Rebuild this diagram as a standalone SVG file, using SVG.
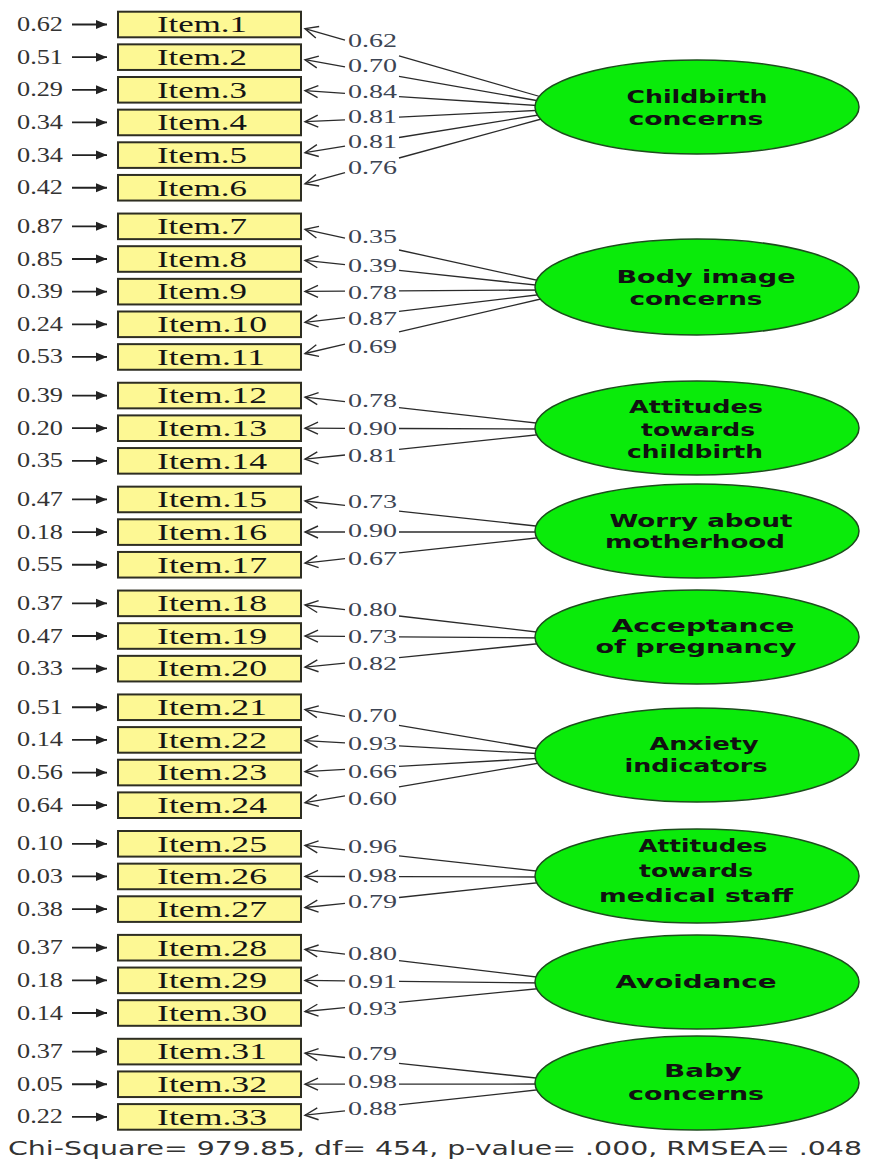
<svg xmlns="http://www.w3.org/2000/svg" width="869" height="1166" viewBox="0 0 869 1166">
<style>
.box{fill:#fdf894;stroke:#2e2e22;stroke-width:2}
.it{font-family:"Liberation Serif",serif;font-size:23px;fill:#141414}
.err{font-family:"Liberation Serif",serif;font-size:20px;fill:#333}
.ld{font-family:"Liberation Serif",serif;font-size:18px;fill:#3c4452}
.ln{stroke:#2b2b2b;stroke-width:1.3;fill:none}
.ar{stroke:#2b2b2b;stroke-width:1.3;fill:none;marker-end:url(#open)}
.ea{stroke:#222;stroke-width:1.8;marker-end:url(#solid)}
.ell{fill:#0aeb0a;stroke:#1d4d1d;stroke-width:1.5}
.lt{font-family:"DejaVu Sans",sans-serif;font-weight:bold;font-size:18px;fill:#111;text-anchor:middle}
.ft{font-family:"DejaVu Sans",sans-serif;font-size:20px;fill:#333}
</style>
<defs>
<marker id="open" markerUnits="userSpaceOnUse" markerWidth="16" markerHeight="14" refX="14" refY="7" orient="auto" overflow="visible">
<path d="M1,1 L14,7 L1,13" fill="none" stroke="#2b2b2b" stroke-width="1.4"/>
</marker>
<marker id="solid" markerUnits="userSpaceOnUse" markerWidth="12" markerHeight="10" refX="11" refY="4.5" orient="auto" overflow="visible">
<path d="M0,0 L11,4.5 L0,9 z" fill="#222"/>
</marker>
</defs>
<rect width="869" height="1166" fill="#fff"/>

<g id="connectors">
<line class="ln" x1="545" y1="98" x2="399" y2="55.8"/><line class="ar" x1="345" y1="40.2" x2="305" y2="28.6"/>
<line class="ln" x1="545" y1="102" x2="399" y2="76.3"/><line class="ar" x1="345" y1="66.8" x2="305" y2="59.7"/>
<line class="ln" x1="545" y1="106" x2="399" y2="96.7"/><line class="ar" x1="345" y1="93.3" x2="305" y2="90.7"/>
<line class="ln" x1="545" y1="110" x2="399" y2="117.1"/><line class="ar" x1="345" y1="119.8" x2="305" y2="121.7"/>
<line class="ln" x1="545" y1="114" x2="399" y2="137.5"/><line class="ar" x1="345" y1="146.2" x2="305" y2="152.7"/>
<line class="ln" x1="545" y1="118" x2="399" y2="158"/><line class="ar" x1="345" y1="172.7" x2="305" y2="183.7"/>
<line class="ln" x1="545" y1="282" x2="399" y2="250"/><line class="ar" x1="345" y1="238.2" x2="305" y2="229.4"/>
<line class="ln" x1="545" y1="286" x2="399" y2="270.4"/><line class="ar" x1="345" y1="264.7" x2="305" y2="260.4"/>
<line class="ln" x1="545" y1="290" x2="399" y2="290.9"/><line class="ar" x1="345" y1="291.2" x2="305" y2="291.4"/>
<line class="ln" x1="545" y1="294" x2="399" y2="311.3"/><line class="ar" x1="345" y1="317.7" x2="305" y2="322.4"/>
<line class="ln" x1="545" y1="298" x2="399" y2="331.8"/><line class="ar" x1="345" y1="344.2" x2="305" y2="353.5"/>
<line class="ln" x1="545" y1="424" x2="399" y2="407.7"/><line class="ar" x1="345" y1="401.7" x2="305" y2="397.2"/>
<line class="ln" x1="545" y1="429" x2="399" y2="428.5"/><line class="ar" x1="345" y1="428.3" x2="305" y2="428.2"/>
<line class="ln" x1="545" y1="434" x2="399" y2="449.3"/><line class="ar" x1="345" y1="455" x2="305" y2="459.2"/>
<line class="ln" x1="545" y1="527" x2="399" y2="511.2"/><line class="ar" x1="345" y1="505.3" x2="305" y2="501"/>
<line class="ln" x1="545" y1="532" x2="399" y2="532"/><line class="ar" x1="345" y1="532" x2="305" y2="532"/>
<line class="ln" x1="545" y1="537" x2="399" y2="552.9"/><line class="ar" x1="345" y1="558.7" x2="305" y2="563.1"/>
<line class="ln" x1="545" y1="633" x2="399" y2="616"/><line class="ar" x1="345" y1="609.7" x2="305" y2="605"/>
<line class="ln" x1="545" y1="638" x2="399" y2="636.8"/><line class="ar" x1="345" y1="636.4" x2="305" y2="636.1"/>
<line class="ln" x1="545" y1="643" x2="399" y2="657.7"/><line class="ar" x1="345" y1="663.1" x2="305" y2="667.1"/>
<line class="ln" x1="545" y1="750" x2="399" y2="725.4"/><line class="ar" x1="345" y1="716.3" x2="305" y2="709.6"/>
<line class="ln" x1="545" y1="754" x2="399" y2="745.9"/><line class="ar" x1="345" y1="742.9" x2="305" y2="740.7"/>
<line class="ln" x1="545" y1="758" x2="399" y2="766.3"/><line class="ar" x1="345" y1="769.4" x2="305" y2="771.7"/>
<line class="ln" x1="545" y1="762" x2="399" y2="786.8"/><line class="ar" x1="345" y1="795.9" x2="305" y2="802.7"/>
<line class="ln" x1="545" y1="872" x2="399" y2="855.8"/><line class="ar" x1="345" y1="849.8" x2="305" y2="845.4"/>
<line class="ln" x1="545" y1="877" x2="399" y2="876.6"/><line class="ar" x1="345" y1="876.5" x2="305" y2="876.4"/>
<line class="ln" x1="545" y1="882" x2="399" y2="897.5"/><line class="ar" x1="345" y1="903.3" x2="305" y2="907.5"/>
<line class="ln" x1="545" y1="978" x2="399" y2="960.6"/><line class="ar" x1="345" y1="954.2" x2="305" y2="949.4"/>
<line class="ln" x1="545" y1="983" x2="399" y2="981.4"/><line class="ar" x1="345" y1="980.8" x2="305" y2="980.4"/>
<line class="ln" x1="545" y1="988" x2="399" y2="1002.3"/><line class="ar" x1="345" y1="1007.6" x2="305" y2="1011.5"/>
<line class="ln" x1="545" y1="1079" x2="399" y2="1063.3"/><line class="ar" x1="345" y1="1057.5" x2="305" y2="1053.2"/>
<line class="ln" x1="545" y1="1084" x2="399" y2="1084.2"/><line class="ar" x1="345" y1="1084.2" x2="305" y2="1084.2"/>
<line class="ln" x1="545" y1="1089" x2="399" y2="1104.9"/><line class="ar" x1="345" y1="1110.8" x2="305" y2="1115.2"/>

<line class="ea" x1="72" y1="24.5" x2="107" y2="24.5"/>
<line class="ea" x1="72" y1="57.15" x2="107" y2="57.15"/>
<line class="ea" x1="72" y1="89.8" x2="107" y2="89.8"/>
<line class="ea" x1="72" y1="122.45" x2="107" y2="122.45"/>
<line class="ea" x1="72" y1="155.1" x2="107" y2="155.1"/>
<line class="ea" x1="72" y1="187.75" x2="107" y2="187.75"/>
<line class="ea" x1="72" y1="226.35" x2="107" y2="226.35"/>
<line class="ea" x1="72" y1="259" x2="107" y2="259"/>
<line class="ea" x1="72" y1="291.65" x2="107" y2="291.65"/>
<line class="ea" x1="72" y1="324.3" x2="107" y2="324.3"/>
<line class="ea" x1="72" y1="356.95" x2="107" y2="356.95"/>
<line class="ea" x1="72" y1="395.55" x2="107" y2="395.55"/>
<line class="ea" x1="72" y1="428.2" x2="107" y2="428.2"/>
<line class="ea" x1="72" y1="460.85" x2="107" y2="460.85"/>
<line class="ea" x1="72" y1="499.45" x2="107" y2="499.45"/>
<line class="ea" x1="72" y1="532.1" x2="107" y2="532.1"/>
<line class="ea" x1="72" y1="564.75" x2="107" y2="564.75"/>
<line class="ea" x1="72" y1="603.35" x2="107" y2="603.35"/>
<line class="ea" x1="72" y1="636" x2="107" y2="636"/>
<line class="ea" x1="72" y1="668.65" x2="107" y2="668.65"/>
<line class="ea" x1="72" y1="707.25" x2="107" y2="707.25"/>
<line class="ea" x1="72" y1="739.9" x2="107" y2="739.9"/>
<line class="ea" x1="72" y1="772.55" x2="107" y2="772.55"/>
<line class="ea" x1="72" y1="805.2" x2="107" y2="805.2"/>
<line class="ea" x1="72" y1="843.8" x2="107" y2="843.8"/>
<line class="ea" x1="72" y1="876.45" x2="107" y2="876.45"/>
<line class="ea" x1="72" y1="909.1" x2="107" y2="909.1"/>
<line class="ea" x1="72" y1="947.7" x2="107" y2="947.7"/>
<line class="ea" x1="72" y1="980.35" x2="107" y2="980.35"/>
<line class="ea" x1="72" y1="1013" x2="107" y2="1013"/>
<line class="ea" x1="72" y1="1051.6" x2="107" y2="1051.6"/>
<line class="ea" x1="72" y1="1084.25" x2="107" y2="1084.25"/>
<line class="ea" x1="72" y1="1116.9" x2="107" y2="1116.9"/>

<g class="ld">
<text x="348" y="47" textLength="49" lengthAdjust="spacingAndGlyphs">0.62</text>
<text x="348" y="72" textLength="49" lengthAdjust="spacingAndGlyphs">0.70</text>
<text x="348" y="98" textLength="49" lengthAdjust="spacingAndGlyphs">0.84</text>
<text x="348" y="123" textLength="49" lengthAdjust="spacingAndGlyphs">0.81</text>
<text x="348" y="148" textLength="49" lengthAdjust="spacingAndGlyphs">0.81</text>
<text x="348" y="174" textLength="49" lengthAdjust="spacingAndGlyphs">0.76</text>
<text x="348" y="243" textLength="49" lengthAdjust="spacingAndGlyphs">0.35</text>
<text x="348" y="272" textLength="49" lengthAdjust="spacingAndGlyphs">0.39</text>
<text x="348" y="299" textLength="49" lengthAdjust="spacingAndGlyphs">0.78</text>
<text x="348" y="325" textLength="49" lengthAdjust="spacingAndGlyphs">0.87</text>
<text x="348" y="353" textLength="49" lengthAdjust="spacingAndGlyphs">0.69</text>
<text x="348" y="407" textLength="49" lengthAdjust="spacingAndGlyphs">0.78</text>
<text x="348" y="435" textLength="49" lengthAdjust="spacingAndGlyphs">0.90</text>
<text x="348" y="462" textLength="49" lengthAdjust="spacingAndGlyphs">0.81</text>
<text x="348" y="508" textLength="49" lengthAdjust="spacingAndGlyphs">0.73</text>
<text x="348" y="537" textLength="49" lengthAdjust="spacingAndGlyphs">0.90</text>
<text x="348" y="565" textLength="49" lengthAdjust="spacingAndGlyphs">0.67</text>
<text x="348" y="616" textLength="49" lengthAdjust="spacingAndGlyphs">0.80</text>
<text x="348" y="643" textLength="49" lengthAdjust="spacingAndGlyphs">0.73</text>
<text x="348" y="670" textLength="49" lengthAdjust="spacingAndGlyphs">0.82</text>
<text x="348" y="722" textLength="49" lengthAdjust="spacingAndGlyphs">0.70</text>
<text x="348" y="750" textLength="49" lengthAdjust="spacingAndGlyphs">0.93</text>
<text x="348" y="778" textLength="49" lengthAdjust="spacingAndGlyphs">0.66</text>
<text x="348" y="805" textLength="49" lengthAdjust="spacingAndGlyphs">0.60</text>
<text x="348" y="853" textLength="49" lengthAdjust="spacingAndGlyphs">0.96</text>
<text x="348" y="882" textLength="49" lengthAdjust="spacingAndGlyphs">0.98</text>
<text x="348" y="908" textLength="49" lengthAdjust="spacingAndGlyphs">0.79</text>
<text x="348" y="960" textLength="49" lengthAdjust="spacingAndGlyphs">0.80</text>
<text x="348" y="988" textLength="49" lengthAdjust="spacingAndGlyphs">0.91</text>
<text x="348" y="1015" textLength="49" lengthAdjust="spacingAndGlyphs">0.93</text>
<text x="348" y="1060" textLength="49" lengthAdjust="spacingAndGlyphs">0.79</text>
<text x="348" y="1088" textLength="49" lengthAdjust="spacingAndGlyphs">0.98</text>
<text x="348" y="1115" textLength="49" lengthAdjust="spacingAndGlyphs">0.88</text>
</g>

<g class="err">
<text x="17" y="31" textLength="46" lengthAdjust="spacingAndGlyphs">0.62</text>
<text x="17" y="63.65" textLength="46" lengthAdjust="spacingAndGlyphs">0.51</text>
<text x="17" y="96.3" textLength="46" lengthAdjust="spacingAndGlyphs">0.29</text>
<text x="17" y="128.95" textLength="46" lengthAdjust="spacingAndGlyphs">0.34</text>
<text x="17" y="161.6" textLength="46" lengthAdjust="spacingAndGlyphs">0.34</text>
<text x="17" y="194.25" textLength="46" lengthAdjust="spacingAndGlyphs">0.42</text>
<text x="17" y="232.85" textLength="46" lengthAdjust="spacingAndGlyphs">0.87</text>
<text x="17" y="265.5" textLength="46" lengthAdjust="spacingAndGlyphs">0.85</text>
<text x="17" y="298.15" textLength="46" lengthAdjust="spacingAndGlyphs">0.39</text>
<text x="17" y="330.8" textLength="46" lengthAdjust="spacingAndGlyphs">0.24</text>
<text x="17" y="363.45" textLength="46" lengthAdjust="spacingAndGlyphs">0.53</text>
<text x="17" y="402.05" textLength="46" lengthAdjust="spacingAndGlyphs">0.39</text>
<text x="17" y="434.7" textLength="46" lengthAdjust="spacingAndGlyphs">0.20</text>
<text x="17" y="467.35" textLength="46" lengthAdjust="spacingAndGlyphs">0.35</text>
<text x="17" y="505.95" textLength="46" lengthAdjust="spacingAndGlyphs">0.47</text>
<text x="17" y="538.6" textLength="46" lengthAdjust="spacingAndGlyphs">0.18</text>
<text x="17" y="571.25" textLength="46" lengthAdjust="spacingAndGlyphs">0.55</text>
<text x="17" y="609.85" textLength="46" lengthAdjust="spacingAndGlyphs">0.37</text>
<text x="17" y="642.5" textLength="46" lengthAdjust="spacingAndGlyphs">0.47</text>
<text x="17" y="675.15" textLength="46" lengthAdjust="spacingAndGlyphs">0.33</text>
<text x="17" y="713.75" textLength="46" lengthAdjust="spacingAndGlyphs">0.51</text>
<text x="17" y="746.4" textLength="46" lengthAdjust="spacingAndGlyphs">0.14</text>
<text x="17" y="779.05" textLength="46" lengthAdjust="spacingAndGlyphs">0.56</text>
<text x="17" y="811.7" textLength="46" lengthAdjust="spacingAndGlyphs">0.64</text>
<text x="17" y="850.3" textLength="46" lengthAdjust="spacingAndGlyphs">0.10</text>
<text x="17" y="882.95" textLength="46" lengthAdjust="spacingAndGlyphs">0.03</text>
<text x="17" y="915.6" textLength="46" lengthAdjust="spacingAndGlyphs">0.38</text>
<text x="17" y="954.2" textLength="46" lengthAdjust="spacingAndGlyphs">0.37</text>
<text x="17" y="986.85" textLength="46" lengthAdjust="spacingAndGlyphs">0.18</text>
<text x="17" y="1019.5" textLength="46" lengthAdjust="spacingAndGlyphs">0.14</text>
<text x="17" y="1058.1" textLength="46" lengthAdjust="spacingAndGlyphs">0.37</text>
<text x="17" y="1090.75" textLength="46" lengthAdjust="spacingAndGlyphs">0.05</text>
<text x="17" y="1123.4" textLength="46" lengthAdjust="spacingAndGlyphs">0.22</text>
</g>
</g>

<g id="items">
<g id="item1"><rect class="box" x="118" y="11.7" width="183" height="25.6"/><text class="it" x="157" y="32.3" textLength="90" lengthAdjust="spacingAndGlyphs">Item.1</text></g>
<g id="item2"><rect class="box" x="118" y="44.35" width="183" height="25.6"/><text class="it" x="157" y="64.95" textLength="90" lengthAdjust="spacingAndGlyphs">Item.2</text></g>
<g id="item3"><rect class="box" x="118" y="77" width="183" height="25.6"/><text class="it" x="157" y="97.6" textLength="90" lengthAdjust="spacingAndGlyphs">Item.3</text></g>
<g id="item4"><rect class="box" x="118" y="109.65" width="183" height="25.6"/><text class="it" x="157" y="130.25" textLength="90" lengthAdjust="spacingAndGlyphs">Item.4</text></g>
<g id="item5"><rect class="box" x="118" y="142.3" width="183" height="25.6"/><text class="it" x="157" y="162.9" textLength="90" lengthAdjust="spacingAndGlyphs">Item.5</text></g>
<g id="item6"><rect class="box" x="118" y="174.95" width="183" height="25.6"/><text class="it" x="157" y="195.55" textLength="90" lengthAdjust="spacingAndGlyphs">Item.6</text></g>
<g id="item7"><rect class="box" x="118" y="213.55" width="183" height="25.6"/><text class="it" x="157" y="234.15" textLength="90" lengthAdjust="spacingAndGlyphs">Item.7</text></g>
<g id="item8"><rect class="box" x="118" y="246.2" width="183" height="25.6"/><text class="it" x="157" y="266.8" textLength="90" lengthAdjust="spacingAndGlyphs">Item.8</text></g>
<g id="item9"><rect class="box" x="118" y="278.85" width="183" height="25.6"/><text class="it" x="157" y="299.45" textLength="90" lengthAdjust="spacingAndGlyphs">Item.9</text></g>
<g id="item10"><rect class="box" x="118" y="311.5" width="183" height="25.6"/><text class="it" x="157" y="332.1" textLength="110" lengthAdjust="spacingAndGlyphs">Item.10</text></g>
<g id="item11"><rect class="box" x="118" y="344.15" width="183" height="25.6"/><text class="it" x="157" y="364.75" textLength="108" lengthAdjust="spacingAndGlyphs">Item.11</text></g>
<g id="item12"><rect class="box" x="118" y="382.75" width="183" height="25.6"/><text class="it" x="157" y="403.35" textLength="110" lengthAdjust="spacingAndGlyphs">Item.12</text></g>
<g id="item13"><rect class="box" x="118" y="415.4" width="183" height="25.6"/><text class="it" x="157" y="436" textLength="110" lengthAdjust="spacingAndGlyphs">Item.13</text></g>
<g id="item14"><rect class="box" x="118" y="448.05" width="183" height="25.6"/><text class="it" x="157" y="468.65" textLength="110" lengthAdjust="spacingAndGlyphs">Item.14</text></g>
<g id="item15"><rect class="box" x="118" y="486.65" width="183" height="25.6"/><text class="it" x="157" y="507.25" textLength="110" lengthAdjust="spacingAndGlyphs">Item.15</text></g>
<g id="item16"><rect class="box" x="118" y="519.3" width="183" height="25.6"/><text class="it" x="157" y="539.9" textLength="110" lengthAdjust="spacingAndGlyphs">Item.16</text></g>
<g id="item17"><rect class="box" x="118" y="551.95" width="183" height="25.6"/><text class="it" x="157" y="572.55" textLength="110" lengthAdjust="spacingAndGlyphs">Item.17</text></g>
<g id="item18"><rect class="box" x="118" y="590.55" width="183" height="25.6"/><text class="it" x="157" y="611.15" textLength="110" lengthAdjust="spacingAndGlyphs">Item.18</text></g>
<g id="item19"><rect class="box" x="118" y="623.2" width="183" height="25.6"/><text class="it" x="157" y="643.8" textLength="110" lengthAdjust="spacingAndGlyphs">Item.19</text></g>
<g id="item20"><rect class="box" x="118" y="655.85" width="183" height="25.6"/><text class="it" x="157" y="676.45" textLength="110" lengthAdjust="spacingAndGlyphs">Item.20</text></g>
<g id="item21"><rect class="box" x="118" y="694.45" width="183" height="25.6"/><text class="it" x="157" y="715.05" textLength="110" lengthAdjust="spacingAndGlyphs">Item.21</text></g>
<g id="item22"><rect class="box" x="118" y="727.1" width="183" height="25.6"/><text class="it" x="157" y="747.7" textLength="110" lengthAdjust="spacingAndGlyphs">Item.22</text></g>
<g id="item23"><rect class="box" x="118" y="759.75" width="183" height="25.6"/><text class="it" x="157" y="780.35" textLength="110" lengthAdjust="spacingAndGlyphs">Item.23</text></g>
<g id="item24"><rect class="box" x="118" y="792.4" width="183" height="25.6"/><text class="it" x="157" y="813" textLength="110" lengthAdjust="spacingAndGlyphs">Item.24</text></g>
<g id="item25"><rect class="box" x="118" y="831" width="183" height="25.6"/><text class="it" x="157" y="851.6" textLength="110" lengthAdjust="spacingAndGlyphs">Item.25</text></g>
<g id="item26"><rect class="box" x="118" y="863.65" width="183" height="25.6"/><text class="it" x="157" y="884.25" textLength="110" lengthAdjust="spacingAndGlyphs">Item.26</text></g>
<g id="item27"><rect class="box" x="118" y="896.3" width="183" height="25.6"/><text class="it" x="157" y="916.9" textLength="110" lengthAdjust="spacingAndGlyphs">Item.27</text></g>
<g id="item28"><rect class="box" x="118" y="934.9" width="183" height="25.6"/><text class="it" x="157" y="955.5" textLength="110" lengthAdjust="spacingAndGlyphs">Item.28</text></g>
<g id="item29"><rect class="box" x="118" y="967.55" width="183" height="25.6"/><text class="it" x="157" y="988.15" textLength="110" lengthAdjust="spacingAndGlyphs">Item.29</text></g>
<g id="item30"><rect class="box" x="118" y="1000.2" width="183" height="25.6"/><text class="it" x="157" y="1020.8" textLength="110" lengthAdjust="spacingAndGlyphs">Item.30</text></g>
<g id="item31"><rect class="box" x="118" y="1038.8" width="183" height="25.6"/><text class="it" x="157" y="1059.4" textLength="110" lengthAdjust="spacingAndGlyphs">Item.31</text></g>
<g id="item32"><rect class="box" x="118" y="1071.45" width="183" height="25.6"/><text class="it" x="157" y="1092.05" textLength="110" lengthAdjust="spacingAndGlyphs">Item.32</text></g>
<g id="item33"><rect class="box" x="118" y="1104.1" width="183" height="25.6"/><text class="it" x="157" y="1124.7" textLength="110" lengthAdjust="spacingAndGlyphs">Item.33</text></g>
</g>

<g id="factors">
<g id="f1"><ellipse class="ell" cx="697" cy="107" rx="162" ry="47"/>
<text class="lt" x="697" y="103" textLength="141" lengthAdjust="spacingAndGlyphs">Childbirth</text>
<text class="lt" x="696" y="125" textLength="135" lengthAdjust="spacingAndGlyphs">concerns</text></g>
<g id="f2"><ellipse class="ell" cx="697" cy="287" rx="162" ry="48"/>
<text class="lt" x="706" y="283" textLength="179" lengthAdjust="spacingAndGlyphs">Body image</text>
<text class="lt" x="696" y="305" textLength="133" lengthAdjust="spacingAndGlyphs">concerns</text></g>
<g id="f3"><ellipse class="ell" cx="697" cy="428" rx="162" ry="47"/>
<text class="lt" x="696" y="413" textLength="134" lengthAdjust="spacingAndGlyphs">Attitudes</text>
<text class="lt" x="698" y="436" textLength="114" lengthAdjust="spacingAndGlyphs">towards</text>
<text class="lt" x="695" y="458" textLength="136" lengthAdjust="spacingAndGlyphs">childbirth</text></g>
<g id="f4"><ellipse class="ell" cx="697" cy="531" rx="162" ry="47"/>
<text class="lt" x="701" y="527" textLength="183" lengthAdjust="spacingAndGlyphs">Worry about</text>
<text class="lt" x="695" y="548" textLength="180" lengthAdjust="spacingAndGlyphs">motherhood</text></g>
<g id="f5"><ellipse class="ell" cx="697" cy="637" rx="162" ry="47"/>
<text class="lt" x="703" y="632" textLength="183" lengthAdjust="spacingAndGlyphs">Acceptance</text>
<text class="lt" x="696" y="653" textLength="201" lengthAdjust="spacingAndGlyphs">of pregnancy</text></g>
<g id="f6"><ellipse class="ell" cx="697" cy="755" rx="162" ry="47"/>
<text class="lt" x="704" y="750" textLength="109" lengthAdjust="spacingAndGlyphs">Anxiety</text>
<text class="lt" x="696" y="772" textLength="143" lengthAdjust="spacingAndGlyphs">indicators</text></g>
<g id="f7"><ellipse class="ell" cx="697" cy="876" rx="162" ry="47"/>
<text class="lt" x="703" y="852" textLength="129" lengthAdjust="spacingAndGlyphs">Attitudes</text>
<text class="lt" x="696" y="877" textLength="114" lengthAdjust="spacingAndGlyphs">towards</text>
<text class="lt" x="696" y="902" textLength="194" lengthAdjust="spacingAndGlyphs">medical staff</text></g>
<g id="f8"><ellipse class="ell" cx="697" cy="982" rx="162" ry="47"/>
<text class="lt" x="696" y="988" textLength="161" lengthAdjust="spacingAndGlyphs">Avoidance</text></g>
<g id="f9"><ellipse class="ell" cx="697" cy="1083" rx="162" ry="47"/>
<text class="lt" x="703" y="1077" textLength="78" lengthAdjust="spacingAndGlyphs">Baby</text>
<text class="lt" x="696" y="1100" textLength="136" lengthAdjust="spacingAndGlyphs">concerns</text></g>
</g>

<text class="ft" x="8" y="1155" textLength="854" lengthAdjust="spacingAndGlyphs">Chi-Square= 979.85, df= 454, p-value= .000, RMSEA= .048</text>
</svg>
